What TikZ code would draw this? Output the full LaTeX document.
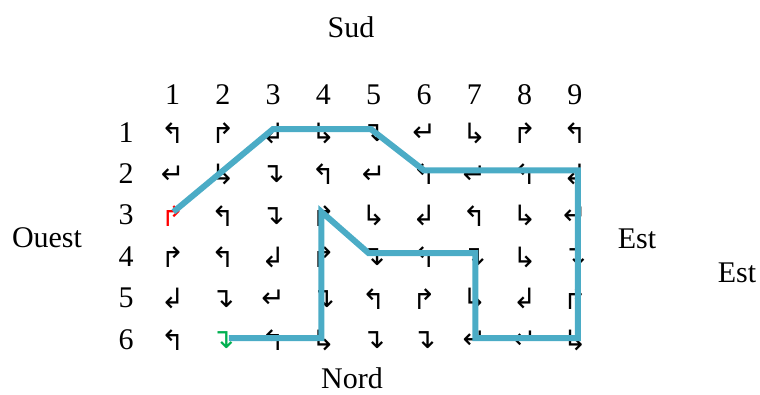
\documentclass[tikz,border=0pt]{standalone}
\usepackage{fontspec}
\setmainfont{Liberation Serif}
\newfontfamily\arrowfont{DejaVu Sans}
\definecolor{pathblue}{RGB}{75,172,198}
\definecolor{startred}{RGB}{255,0,0}
\definecolor{endgreen}{RGB}{0,176,80}
\begin{document}
\begin{tikzpicture}[x=1pt,y=-1pt,
  lbl/.style={font=\fontsize{30}{32}\selectfont, inner sep=0pt, anchor=base},
  arr/.style={font=\arrowfont\fontsize{28}{28}\selectfont, inner sep=0pt},
  route/.style={line width=6pt, draw=pathblue}]
\useasboundingbox (0,0) rectangle (760,394);
% compass labels
\node[lbl] (sud) at (351,37) {Sud};
\node[lbl] (ouest) at (47,247) {Ouest};
\node[lbl] (est) at (637,248) {Est};
\node[lbl] (est2) at (737,282) {Est};
\node[lbl] (nord) at (352,388) {Nord};
% column headers
\foreach \c in {1,...,9}
  \node[lbl] (h\c) at ({172.5+50.3*(\c-1)},104) {\c};
% row headers
\foreach \r in {1,...,6}
  \node[lbl] (v\r) at (126,{142+41.4*(\r-1)}) {\r};
% arrow grid
\foreach \g/\k [count=\c] in {↰/black,↱/black,↲/black,↳/black,↴/black,↵/black,↳/black,↱/black,↰/black}
  \node[arr,text=\k] (c1-\c) at ({172.5+50.3*(\c-1)},133) {\g};
\foreach \g/\k [count=\c] in {↵/black,↳/black,↴/black,↰/black,↵/black,↰/black,↵/black,↰/black,↲/black}
  \node[arr,text=\k] (c2-\c) at ({172.5+50.3*(\c-1)},174.4) {\g};
\foreach \g/\k [count=\c] in {↱/startred,↰/black,↴/black,↱/black,↳/black,↲/black,↰/black,↳/black,↵/black}
  \node[arr,text=\k] (c3-\c) at ({172.5+50.3*(\c-1)},215.8) {\g};
\foreach \g/\k [count=\c] in {↱/black,↰/black,↲/black,↱/black,↴/black,↰/black,↴/black,↳/black,↴/black}
  \node[arr,text=\k] (c4-\c) at ({172.5+50.3*(\c-1)},257.2) {\g};
\foreach \g/\k [count=\c] in {↲/black,↴/black,↵/black,↴/black,↰/black,↱/black,↳/black,↲/black,↱/black}
  \node[arr,text=\k] (c5-\c) at ({172.5+50.3*(\c-1)},298.6) {\g};
\foreach \g/\k [count=\c] in {↰/black,↴/endgreen,↰/black,↳/black,↴/black,↴/black,↵/black,↵/black,↳/black}
  \node[arr,text=\k] (c6-\c) at ({172.5+50.3*(\c-1)},340) {\g};
% route
\draw[route] ([shift={(1pt,4pt)}]c3-1.center) -- ([yshift=4pt]c1-3.center)
  -- ([shift={(-3pt,4pt)}]c1-5.center) -- ([yshift=4pt]c2-6.center)
  -- ([shift={(3pt,4pt)}]c2-9.center) -- ([shift={(3pt,2pt)}]c6-9.center)
  -- ([shift={(1pt,2pt)}]c6-7.center) -- ([shift={(1pt,4pt)}]c4-7.center)
  -- ([shift={(-5pt,4pt)}]c4-5.center) -- ([shift={(-2pt,4pt)}]c3-4.center)
  -- ([shift={(-2pt,2pt)}]c6-4.center) -- ([shift={(6pt,2pt)}]c6-2.center);
\end{tikzpicture}
\end{document}
